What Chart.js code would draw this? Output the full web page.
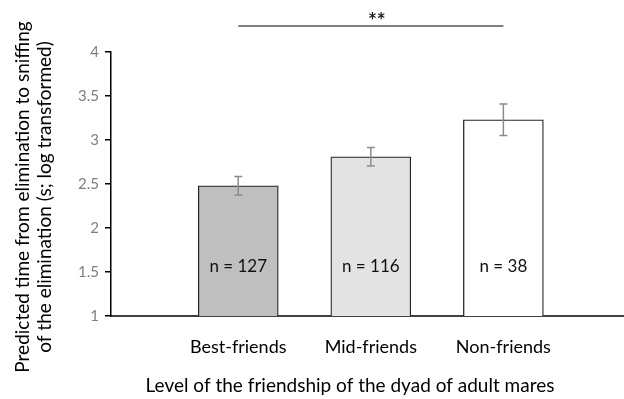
<!DOCTYPE html>
<html>
<head>
<meta charset="utf-8">
<script src="https://cdn.jsdelivr.net/npm/chart.js@4"></script>
<style>
  html, body { margin: 0; padding: 0; background: #fff; overflow: hidden; }
  #wrap { width: 624px; height: 399px; }
</style>
</head>
<body>
<div id="wrap"><canvas id="friendChart" width="624" height="399"></canvas></div>
<script>
const categories = ["Best-friends", "Mid-friends", "Non-friends"];
const positions = [1, 2, 3];
const means = [2.48, 2.81, 3.23];
const errors = [0.105, 0.105, 0.18];
const sampleSizes = [127, 116, 38];
const barColors = ["#bfbfbf", "#e3e3e3", "#ffffff"];
const yTicks = [1, 1.5, 2, 2.5, 3, 3.5, 4];
const xTitle = "Level of the friendship of the dyad of adult mares";
const yTitle = ["Predicted time from elimination to sniffing", "of the elimination (s; log transformed)"];

const FONT = "Lato, 'Open Sans', sans-serif";

// error bars, n labels, significance bracket and axis titles
const extras = {
    id: "extras",
    afterDatasetsDraw(chart) {
        const { ctx, scales: { x, y } } = chart;
        ctx.save();
        ctx.strokeStyle = "#8c8c8c";
        ctx.lineWidth = 1.5;
        positions.forEach((p, i) => {
            const px = x.getPixelForValue(p);
            const top = y.getPixelForValue(means[i] + errors[i]);
            const bot = y.getPixelForValue(means[i] - errors[i]);
            ctx.beginPath();
            ctx.moveTo(px, top); ctx.lineTo(px, bot);
            ctx.moveTo(px - 4, top); ctx.lineTo(px + 4, top);
            ctx.moveTo(px - 4, bot); ctx.lineTo(px + 4, bot);
            ctx.stroke();
        });

        ctx.fillStyle = "#111";
        ctx.font = "17px " + FONT;
        ctx.textAlign = "center";
        ctx.textBaseline = "middle";
        positions.forEach((p, i) => {
            ctx.fillText("n = " + sampleSizes[i], x.getPixelForValue(p), y.getPixelForValue(1.56));
        });

        // ** between best- and non-friends
        const x1 = x.getPixelForValue(positions[0]);
        const x2 = x.getPixelForValue(positions[2]);
        ctx.strokeStyle = "#808080";
        ctx.lineWidth = 2;
        ctx.beginPath();
        ctx.moveTo(x1, 26); ctx.lineTo(x2, 26);
        ctx.stroke();
        ctx.font = "bold 21px " + FONT;
        ctx.fillStyle = "#222";
        ctx.fillText("**", (x1 + x2) / 2 + 6, 21);

        // axis titles
        ctx.fillStyle = "#000";
        ctx.font = "19px " + FONT;
        ctx.fillText(xTitle, 350, 386);
        ctx.translate(0, 197);
        ctx.rotate(-Math.PI / 2);
        ctx.fillText(yTitle[0], 0, 23);
        ctx.fillText(yTitle[1], 0, 45);
        ctx.restore();
    }
};

new Chart(document.getElementById("friendChart"), {
    type: "bar",
    data: {
        datasets: [{
            data: positions.map((p, i) => ({ x: p, y: means[i] })),
            backgroundColor: barColors,
            borderColor: "#262626",
            borderWidth: 1.3,
            borderSkipped: false,
            barThickness: 80
        }]
    },
    options: {
        responsive: false,
        animation: false,
        layout: { padding: { top: 52, right: 0, bottom: 0, left: 0 } },
        plugins: { legend: { display: false }, tooltip: { enabled: false } },
        scales: {
            x: {
                type: "linear",
                offset: false,
                bounds: "data",
                min: 0.04,
                max: 3.91,
                grid: { display: false, drawTicks: false, offset: false },
                border: { color: "#404040", width: 2 },
                afterBuildTicks: s => { s.ticks = positions.map(v => ({ value: v })); },
                afterFit: s => { s.height = 83; },
                ticks: {
                    padding: 20,
                    color: "#000",
                    font: { size: 18, family: FONT },
                    callback: v => categories[positions.indexOf(v)] || ""
                }
            },
            y: {
                min: 1,
                max: 4,
                afterBuildTicks: s => { s.ticks = yTicks.map(v => ({ value: v })); },
                afterFit: s => { s.width = 111; },
                grid: { display: true, drawOnChartArea: false, color: "#000", tickLength: 6, lineWidth: 1.5 },
                border: { color: "#000", width: 1.5 },
                ticks: {
                    padding: 6,
                    color: "#7f7f7f",
                    font: { size: 15, family: FONT },
                    callback: v => String(v)
                }
            }
        }
    },
    plugins: [extras]
});
</script>
</body>
</html>
